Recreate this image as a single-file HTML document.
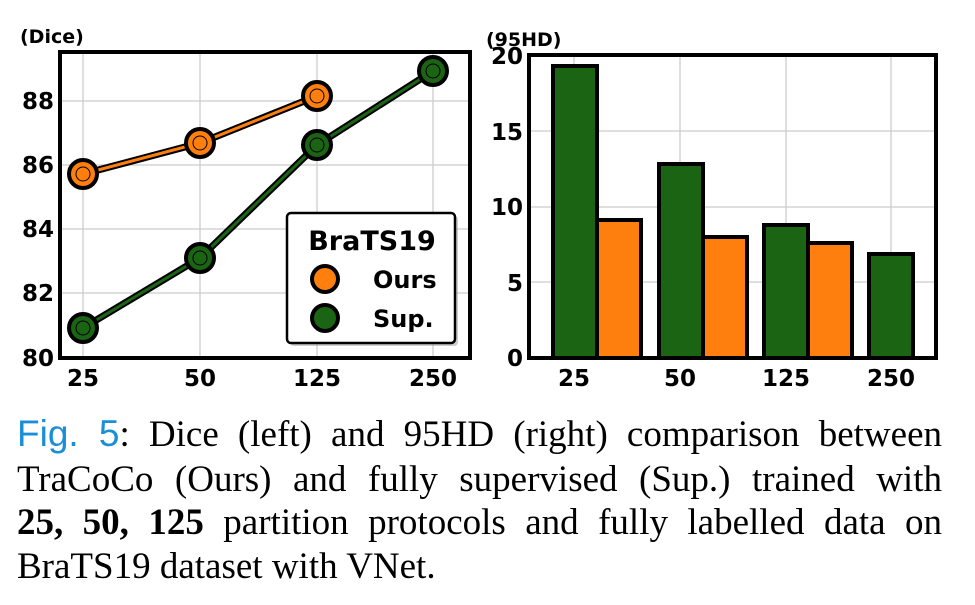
<!DOCTYPE html>
<html><head><meta charset="utf-8"><style>
html,body{margin:0;padding:0;background:#fff;}
svg{display:block;position:absolute;left:0;top:0;}
.t{font-family:"DejaVu Sans","Liberation Sans",sans-serif;font-weight:bold;fill:#000;}
.cap{position:absolute;left:17px;width:925px;font-family:"Liberation Serif",serif;font-size:37px;line-height:44px;color:#000;white-space:nowrap;}
.j{text-align:justify;text-align-last:justify;white-space:normal;}
</style></head><body>
<svg width="975" height="605" viewBox="0 0 975 605" xmlns="http://www.w3.org/2000/svg">
<text class="t" x="20" y="43" font-size="19">(Dice)</text>
<g stroke="#ccc" stroke-width="1.3">
<line x1="83" y1="52" x2="83" y2="358"/><line x1="200" y1="52" x2="200" y2="358"/>
<line x1="317" y1="52" x2="317" y2="358"/><line x1="433" y1="52" x2="433" y2="358"/>
<line x1="60" y1="101" x2="470" y2="101"/><line x1="60" y1="165" x2="470" y2="165"/>
<line x1="60" y1="229" x2="470" y2="229"/><line x1="60" y1="293" x2="470" y2="293"/>
</g>
<polyline points="83,174 200,143 317,96" fill="none" stroke="#000" stroke-width="7"/>
<polyline points="83,174 200,143 317,96" fill="none" stroke="#ff7f0e" stroke-width="3"/>
<polyline points="83,328 200,258 317,145 433,71" fill="none" stroke="#000" stroke-width="7"/>
<polyline points="83,328 200,258 317,145 433,71" fill="none" stroke="#1a6414" stroke-width="3"/>
<g stroke="#000" stroke-width="4">
<circle cx="83" cy="174" r="14" fill="#ff7f0e"/><circle cx="200" cy="143" r="14" fill="#ff7f0e"/><circle cx="317" cy="96" r="14" fill="#ff7f0e"/>
<circle cx="83" cy="328" r="14" fill="#1a6414"/><circle cx="200" cy="258" r="14" fill="#1a6414"/><circle cx="317" cy="145" r="14" fill="#1a6414"/><circle cx="433" cy="71" r="14" fill="#1a6414"/>
</g>
<g stroke="#000" stroke-width="1" fill="none">
<circle cx="83" cy="174" r="7"/><circle cx="200" cy="143" r="7"/><circle cx="317" cy="96" r="7"/>
<circle cx="83" cy="328" r="7"/><circle cx="200" cy="258" r="7"/><circle cx="317" cy="145" r="7"/><circle cx="433" cy="71" r="7"/>
</g>
<rect x="60" y="52" width="410" height="306" fill="none" stroke="#000" stroke-width="4"/>
<g class="t" font-size="23" text-anchor="end">
<text x="54" y="109">88</text><text x="54" y="173">86</text><text x="54" y="237">84</text><text x="54" y="301">82</text><text x="54" y="366">80</text>
</g>
<g class="t" font-size="23" text-anchor="middle">
<text x="83" y="386">25</text><text x="200" y="386">50</text><text x="317" y="386">125</text><text x="433" y="386">250</text>
</g>
<rect x="290" y="216" width="168" height="130" rx="4" fill="#999" opacity="0.5"/>
<rect x="287" y="213" width="168" height="130" rx="4" fill="#fff" stroke="#000" stroke-width="2.5"/>
<text class="t" x="372" y="250" font-size="27" text-anchor="middle">BraTS19</text>
<circle cx="325" cy="279" r="13" fill="#ff7f0e" stroke="#000" stroke-width="4"/>
<circle cx="325" cy="318" r="13" fill="#1a6414" stroke="#000" stroke-width="4"/>
<text class="t" x="373" y="288" font-size="24">Ours</text>
<text class="t" x="373" y="327" font-size="24">Sup.</text>

<text class="t" x="486" y="46" font-size="19">(95HD)</text>
<g stroke="#ccc" stroke-width="1.3">
<line x1="574" y1="55" x2="574" y2="358"/><line x1="680" y1="55" x2="680" y2="358"/>
<line x1="786" y1="55" x2="786" y2="358"/><line x1="891" y1="55" x2="891" y2="358"/>
<line x1="529" y1="131" x2="936" y2="131"/><line x1="529" y1="207" x2="936" y2="207"/><line x1="529" y1="282" x2="936" y2="282"/>
</g>
<g stroke="#000" stroke-width="4">
<rect x="553" y="66" width="44" height="292" fill="#1a6414"/>
<rect x="597" y="220" width="44" height="138" fill="#ff7f0e"/>
<rect x="659" y="164" width="44" height="194" fill="#1a6414"/>
<rect x="703" y="237" width="44" height="121" fill="#ff7f0e"/>
<rect x="764" y="225" width="44" height="133" fill="#1a6414"/>
<rect x="808" y="243" width="44" height="115" fill="#ff7f0e"/>
<rect x="869" y="254" width="44" height="104" fill="#1a6414"/>
</g>
<rect x="529" y="55" width="407" height="303" fill="none" stroke="#000" stroke-width="4"/>
<g class="t" font-size="23" text-anchor="end">
<text x="523" y="64">20</text><text x="523" y="140">15</text><text x="523" y="215">10</text><text x="523" y="291">5</text><text x="523" y="366">0</text>
</g>
<g class="t" font-size="23" text-anchor="middle">
<text x="574" y="386">25</text><text x="680" y="386">50</text><text x="786" y="386">125</text><text x="891" y="386">250</text>
</g>
</svg>
<div class="cap j" style="top:412px"><span style="color:#1a8fd8;font-family:'Liberation Sans',sans-serif;">Fig. 5</span>: Dice (left) and 95HD (right) comparison between</div>
<div class="cap j" style="top:458px">TraCoCo (Ours) and fully supervised (Sup.) trained with</div>
<div class="cap j" style="top:501px"><b>25, 50, 125</b> partition protocols and fully labelled data on</div>
<div class="cap" style="top:545px">BraTS19 dataset with VNet.</div>
</body></html>
